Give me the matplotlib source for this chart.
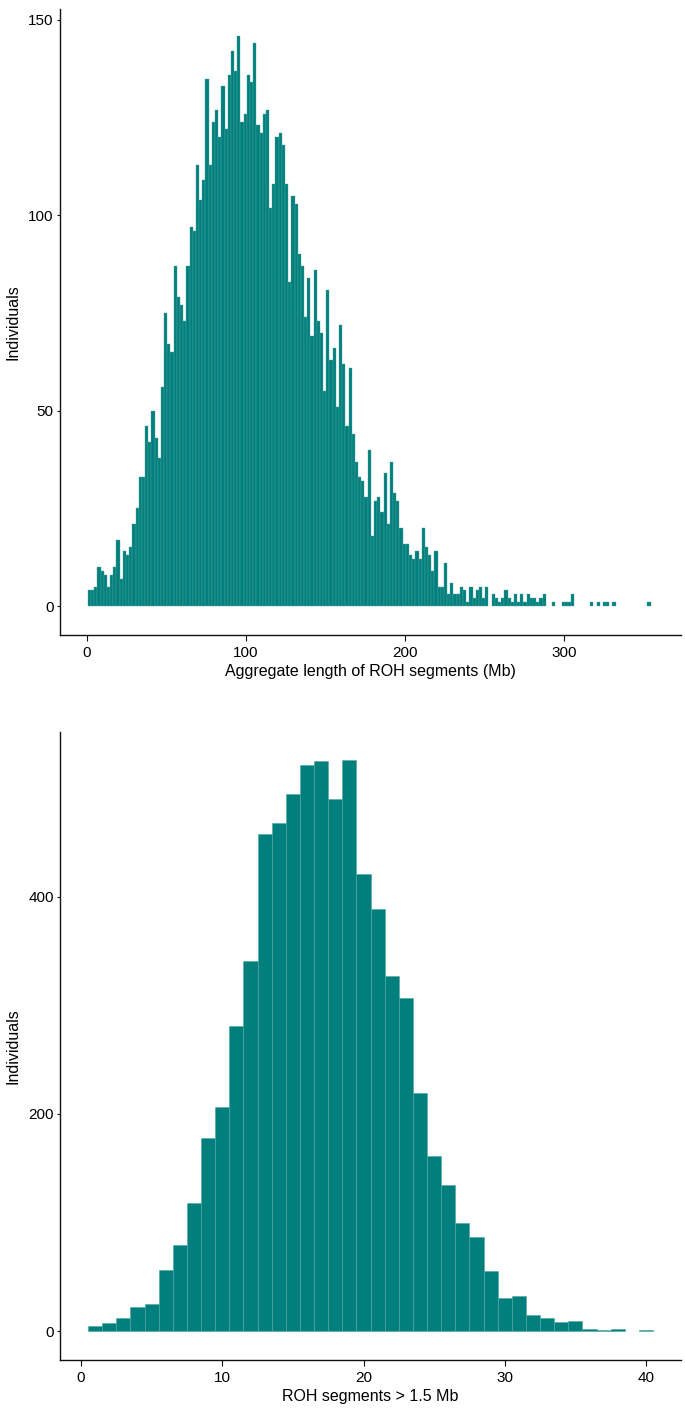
import matplotlib
matplotlib.use("Agg")
import matplotlib.pyplot as plt
import numpy as np

# aggregate ROH length histogram, 2 Mb bins starting at 0.5 Mb
roh_length_counts = [
    4, 4, 5, 10, 9, 8, 5, 8, 10, 17, 7, 14, 13, 15, 21, 25, 33, 33, 46, 42,
    50, 43, 38, 56, 75, 67, 65, 87, 79, 77, 73, 87, 97, 96, 113,
    104, 109, 135, 113, 124, 127, 120, 133, 122, 136, 142, 137, 146, 124, 126,
    136, 134, 144, 123, 121, 126, 127, 102, 108, 120, 121, 118, 108, 83, 105,
    103, 90, 87, 74, 84, 69, 86, 73, 70, 55, 81, 63, 66, 51, 72, 62, 46, 61,
    44, 37, 33,
    32, 28, 40, 18, 27, 28, 24, 34, 21, 37, 29, 27, 20, 16, 16, 13, 12, 14,
    12, 20, 15, 13, 9, 14, 5, 5, 11, 3, 6, 3, 3, 5, 4, 1, 5, 2, 4, 5, 2, 5,
    0, 3, 2, 1, 2, 4, 2, 1, 3, 1, 3, 1, 3, 2, 2, 1, 2, 3,
    0, 0, 1, 0, 0, 1, 1, 1, 3, 0, 0, 0, 0, 0, 1, 0, 1, 0, 1, 1, 0, 1,
    0, 0, 0, 0, 0, 0, 0, 0, 0, 0, 1,
]
length_bin_start = 0.5
length_bin_width = 2
length_ticks = [0, 100, 200, 300]
length_yticks = [0, 50, 100, 150]

# number of ROH segments > 1.5 Mb, one bin per integer
segment_bins = list(range(1, 41))
segment_counts = [
    5, 7, 12, 22, 25, 56, 79, 118, 178, 206, 281, 341, 458, 468, 495, 522,
    525, 490, 526, 421, 389, 327, 307, 219, 161, 135, 100, 87, 55, 30, 32,
    15, 12, 8, 9, 2, 1, 2, 0, 1,
]
segment_ticks = [0, 10, 20, 30, 40]
segment_yticks = [0, 200, 400]

TEAL = "#007f7c"
EDGE = "#52a6a3"

plt.rcParams['font.family'] = ['Liberation Sans', 'DejaVu Sans']

W, H = 685, 1414
fig = plt.figure(figsize=(W / 100, H / 100), dpi=100)


def axes_px(left, top, right, bottom):
    return fig.add_axes([left / W, 1 - bottom / H, (right - left) / W, (bottom - top) / H])


def style(ax):
    for s in ["top", "right"]:
        ax.spines[s].set_visible(False)
    for s in ["left", "bottom"]:
        ax.spines[s].set_linewidth(1.0)
        ax.spines[s].set_color("#111111")
    ax.tick_params(axis="x", direction="out", length=4, width=0.8, pad=4,
                   labelsize=11, color="#111111")
    ax.tick_params(axis="y", direction="out", length=2.5, width=0.8, pad=2,
                   labelsize=11, color="#111111")


def hist_bars(ax, lefts, counts, width, lw):
    lefts = np.asarray(lefts, dtype=float)
    counts = np.asarray(counts)
    keep = counts > 0  # empty bins draw nothing
    ax.bar(lefts[keep], counts[keep], width=width, align="edge",
           color=TEAL, edgecolor=EDGE, linewidth=lw)


# top panel
ax1 = axes_px(60, 9, 681, 635)
x1 = length_bin_start + length_bin_width * np.arange(len(roh_length_counts))
hist_bars(ax1, x1, roh_length_counts, length_bin_width, 0.3)
ax1.set_xlim(-17, 373.6)
ax1.set_ylim(-7.4, 152.8)
ax1.set_xticks(length_ticks)
ax1.set_yticks(length_yticks)
style(ax1)
ax1.set_xlabel("Aggregate length of ROH segments (Mb)", fontsize=11.5)
ax1.set_ylabel("Individuals", fontsize=11.5)
ax1.xaxis.set_label_coords(0.5, -0.046)
ax1.yaxis.set_label_coords(-0.063, 0.5)

# bottom panel
ax2 = axes_px(60, 732, 681, 1360)
x2 = np.asarray(segment_bins) - 0.5
hist_bars(ax2, x2, segment_counts, 1, 0.4)
ax2.set_xlim(-1.49, 42.48)
ax2.set_ylim(-26.7, 552)
ax2.set_xticks(segment_ticks)
ax2.set_yticks(segment_yticks)
style(ax2)
ax2.set_xlabel("ROH segments > 1.5 Mb", fontsize=11.5)
ax2.set_ylabel("Individuals", fontsize=11.5)
ax2.xaxis.set_label_coords(0.5, -0.046)
ax2.yaxis.set_label_coords(-0.063, 0.5)

fig.savefig("out.png", dpi=100, facecolor="white")
